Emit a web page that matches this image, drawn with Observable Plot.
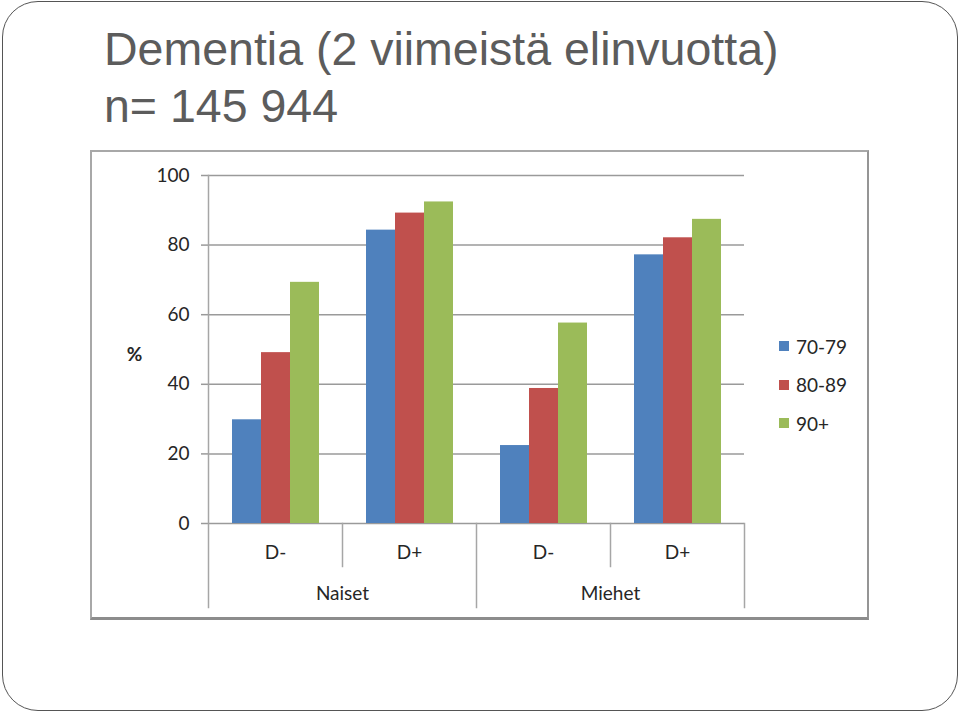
<!DOCTYPE html>
<html>
<head>
<meta charset="utf-8">
<script src="https://cdn.jsdelivr.net/npm/d3@7"></script>
<script src="https://cdn.jsdelivr.net/npm/@observablehq/plot@0.6"></script>
<style>
  html, body { margin: 0; padding: 0; width: 960px; height: 712px; overflow: hidden; background: #fff; }
  #outer { position: absolute; left: 2px; top: 1px; width: 956px; height: 710px; box-sizing: border-box;
           border: 1.5px solid #555; border-radius: 36px; }
  .title { position: absolute; left: 104px; top: 21px; font-family: "Liberation Sans", Arial, sans-serif;
           font-size: 46.5px; line-height: 57px; color: #5c5c5c; white-space: nowrap; }
  #chartbox { position: absolute; left: 90px; top: 150px; width: 779px; height: 470px; box-sizing: border-box;
              border: 2px solid #a8a8a8; border-bottom: 3px solid #8c8c8c; border-right: 2px solid #959595; }
  #plot { position: absolute; left: 0; top: 140px; }
  #legend { position: absolute; left: 779px; top: 327px; font-family: Lato, sans-serif; font-size: 19px; color: #262626; }
  #legend .row { height: 38.5px; display: flex; align-items: center; }
  #legend .sw { width: 10px; height: 10px; margin-right: 7px; }
</style>
</head>
<body>
<div id="outer"></div>
<div class="title">Dementia (2 viimeistä elinvuotta)<br>n= 145 944</div>
<div id="chartbox"></div>
<div id="plot"></div>
<div id="legend"></div>
<script>
// ---- data ----
const groups = ["Naiset", "Miehet"];
const subgroups = ["D-", "D+"];
const ages = ["70-79", "80-89", "90+"];
const colors = ["#4F81BD", "#C0504D", "#9BBB59"];
// values per age series, in order Naiset D-, Naiset D+, Miehet D-, Miehet D+
const v7079 = [29.8, 84.3, 22.4, 77.2];
const v8089 = [49.1, 89.2, 38.8, 82.1];
const v90 = [69.3, 92.4, 57.6, 87.4];
const yTicks = [0, 20, 40, 60, 80, 100];

// ---- build table ----
const series = [v7079, v8089, v90];
const cats = [];
groups.forEach(g => subgroups.forEach(s => cats.push({key: g + "|" + s, group: g, sub: s})));
const rows = [];
cats.forEach((c, ci) => ages.forEach((a, ai) => rows.push({key: c.key, age: a, value: series[ai][ci]})));
const firstOf = g => g + "|" + subgroups[0];
const lastKey = cats[cats.length - 1].key;

const gridColor = "#9a9a9a";
const sepColor = "#a6a6a6";
const textColor = "#262626";
const fs = 19;
const plotH = 500, mTop = 35, mBottom = 117;
const innerH = plotH - mTop - mBottom;

const marks = [
  Plot.ruleY(yTicks, {y: d => d, stroke: gridColor, strokeWidth: 1.5}),
  Plot.axisY({ticks: yTicks, tickSize: 7, tickPadding: 12, fontSize: fs, stroke: gridColor, strokeWidth: 1.5, fill: textColor, label: null}),
  Plot.barY(rows, {fx: "key", x: "age", y: "value", fill: "age"}),
  // vertical axis line on the left, extending through the category area
  Plot.frame({anchor: "left", fx: () => cats[0].key, insetBottom: -84, stroke: sepColor, strokeWidth: 1.5}),
  // group separators
  Plot.frame({anchor: "left", fx: () => firstOf(groups[1]), insetTop: innerH, insetBottom: -84, stroke: sepColor, strokeWidth: 1.5}),
  Plot.frame({anchor: "right", fx: () => lastKey, insetTop: innerH, insetBottom: -84, stroke: sepColor, strokeWidth: 1.5}),
  // sub-category separators
  ...groups.map(g => Plot.frame({anchor: "left", fx: () => g + "|" + subgroups[1], insetTop: innerH, insetBottom: -43, stroke: sepColor, strokeWidth: 1.5})),
  Plot.text(cats, {fx: "key", text: "sub", frameAnchor: "bottom", lineAnchor: "middle", dy: 29, fontSize: fs, fill: textColor}),
  Plot.text(groups, {fx: d => firstOf(d), text: d => d, frameAnchor: "bottom-right", textAnchor: "middle", lineAnchor: "middle", dy: 70, fontSize: fs, fill: textColor}),
  Plot.text(["%"], {fx: () => cats[0].key, text: d => d, frameAnchor: "left", textAnchor: "middle", lineAnchor: "middle", dx: -74, dy: 5, fontSize: fs, fontWeight: "bold", fill: textColor})
];

const chart = Plot.plot({
  width: 960,
  height: plotH,
  marginTop: mTop,
  marginBottom: mBottom,
  marginLeft: 207,
  marginRight: 216,
  style: {fontFamily: "Lato, sans-serif", fontSize: fs + "px", background: "transparent", color: textColor},
  fx: {domain: cats.map(c => c.key), padding: 0, axis: null, label: null},
  x: {domain: ages, paddingInner: 0, paddingOuter: 0.77, axis: null, label: null},
  y: {domain: [0, 100], axis: null, label: null},
  color: {domain: ages, range: colors},
  marks
});
document.getElementById("plot").appendChild(chart);

// legend
const leg = document.getElementById("legend");
ages.forEach((a, i) => {
  const r = document.createElement("div");
  r.className = "row";
  const sw = document.createElement("div");
  sw.className = "sw";
  sw.style.background = colors[i];
  const t = document.createElement("span");
  t.textContent = a;
  r.appendChild(sw); r.appendChild(t);
  leg.appendChild(r);
});
</script>
</body>
</html>
